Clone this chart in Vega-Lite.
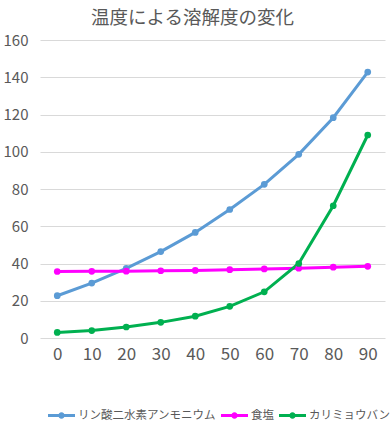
{
  "$schema": "https://vega.github.io/schema/vega-lite/v6.json",
  "autosize": "none",
  "width": 345,
  "height": 298,
  "padding": {"left": 40, "top": 40, "right": 6, "bottom": 105},
  "background": "white",
  "title": {
    "text": "温度による溶解度の変化",
    "anchor": "middle",
    "dx": -20,
    "offset": 6,
    "fontSize": 18.5,
    "font": "Noto Sans CJK JP",
    "fontWeight": "normal",
    "color": "#595959"
  },
  "config": {
    "view": {"stroke": null},
    "font": "Noto Sans CJK JP"
  },
  "data": {
    "values": [
      {"temp": 0, "series": "リン酸二水素アンモニウム", "value": 22.7},
      {"temp": 10, "series": "リン酸二水素アンモニウム", "value": 29.5},
      {"temp": 20, "series": "リン酸二水素アンモニウム", "value": 37.4},
      {"temp": 30, "series": "リン酸二水素アンモニウム", "value": 46.4},
      {"temp": 40, "series": "リン酸二水素アンモニウム", "value": 56.7},
      {"temp": 50, "series": "リン酸二水素アンモニウム", "value": 69.0},
      {"temp": 60, "series": "リン酸二水素アンモニウム", "value": 82.5},
      {"temp": 70, "series": "リン酸二水素アンモニウム", "value": 98.6},
      {"temp": 80, "series": "リン酸二水素アンモニウム", "value": 118.3},
      {"temp": 90, "series": "リン酸二水素アンモニウム", "value": 142.8},
      {"temp": 0, "series": "食塩", "value": 35.7},
      {"temp": 10, "series": "食塩", "value": 35.8},
      {"temp": 20, "series": "食塩", "value": 35.9},
      {"temp": 30, "series": "食塩", "value": 36.1},
      {"temp": 40, "series": "食塩", "value": 36.3},
      {"temp": 50, "series": "食塩", "value": 36.7},
      {"temp": 60, "series": "食塩", "value": 37.1},
      {"temp": 70, "series": "食塩", "value": 37.5},
      {"temp": 80, "series": "食塩", "value": 38.0},
      {"temp": 90, "series": "食塩", "value": 38.5},
      {"temp": 0, "series": "カリミョウバン", "value": 3.0},
      {"temp": 10, "series": "カリミョウバン", "value": 4.0},
      {"temp": 20, "series": "カリミョウバン", "value": 5.9},
      {"temp": 30, "series": "カリミョウバン", "value": 8.4},
      {"temp": 40, "series": "カリミョウバン", "value": 11.7},
      {"temp": 50, "series": "カリミョウバン", "value": 17.0},
      {"temp": 60, "series": "カリミョウバン", "value": 24.8},
      {"temp": 70, "series": "カリミョウバン", "value": 40.0},
      {"temp": 80, "series": "カリミョウバン", "value": 71.0},
      {"temp": 90, "series": "カリミョウバン", "value": 109.0}
    ]
  },
  "encoding": {
    "x": {
      "field": "temp",
      "type": "ordinal",
      "scale": {"type": "point", "padding": 0.5},
      "axis": {
        "title": null,
        "labelAngle": 0,
        "labelFontSize": 17,
        "labelColor": "#595959",
        "labelPadding": 8,
        "ticks": false,
        "domain": false,
        "grid": false
      }
    },
    "y": {
      "field": "value",
      "type": "quantitative",
      "scale": {"domain": [0, 160], "nice": false},
      "axis": {
        "title": null,
        "values": [0, 20, 40, 60, 80, 100, 120, 140, 160],
        "labelFontSize": 15,
        "labelColor": "#595959",
        "labelPadding": 12,
        "ticks": false,
        "domain": false,
        "gridColor": "#d9d9d9",
        "gridWidth": 1
      }
    },
    "color": {
      "field": "series",
      "type": "nominal",
      "scale": {
        "domain": ["リン酸二水素アンモニウム", "食塩", "カリミョウバン"],
        "range": ["#5b9bd5", "#ff00ff", "#00b050"]
      },
      "legend": {
        "title": null,
        "orient": "none",
        "direction": "horizontal",
        "legendX": 8,
        "legendY": 362,
        "symbolType": "M -1 -0.11 L 1 -0.11 L 1 0.11 L -1 0.11 Z M 0.24 0 A 0.24 0.24 0 1 1 -0.24 0 A 0.24 0.24 0 1 1 0.24 0 Z",
        "symbolSize": 729,
        "symbolStrokeWidth": 0,
        "labelFontSize": 11.5,
        "labelColor": "#595959",
        "labelLimit": 400,
        "labelOffset": 3,
        "columnPadding": 5,
        "encode": {
          "symbols": {"update": {"fill": {"scale": "color", "field": "value"}, "opacity": {"value": 1}}}
        }
      }
    }
  },
  "layer": [
    {"mark": {"type": "line", "strokeWidth": 3}},
    {"mark": {"type": "circle", "size": 45, "opacity": 1}}
  ]
}
